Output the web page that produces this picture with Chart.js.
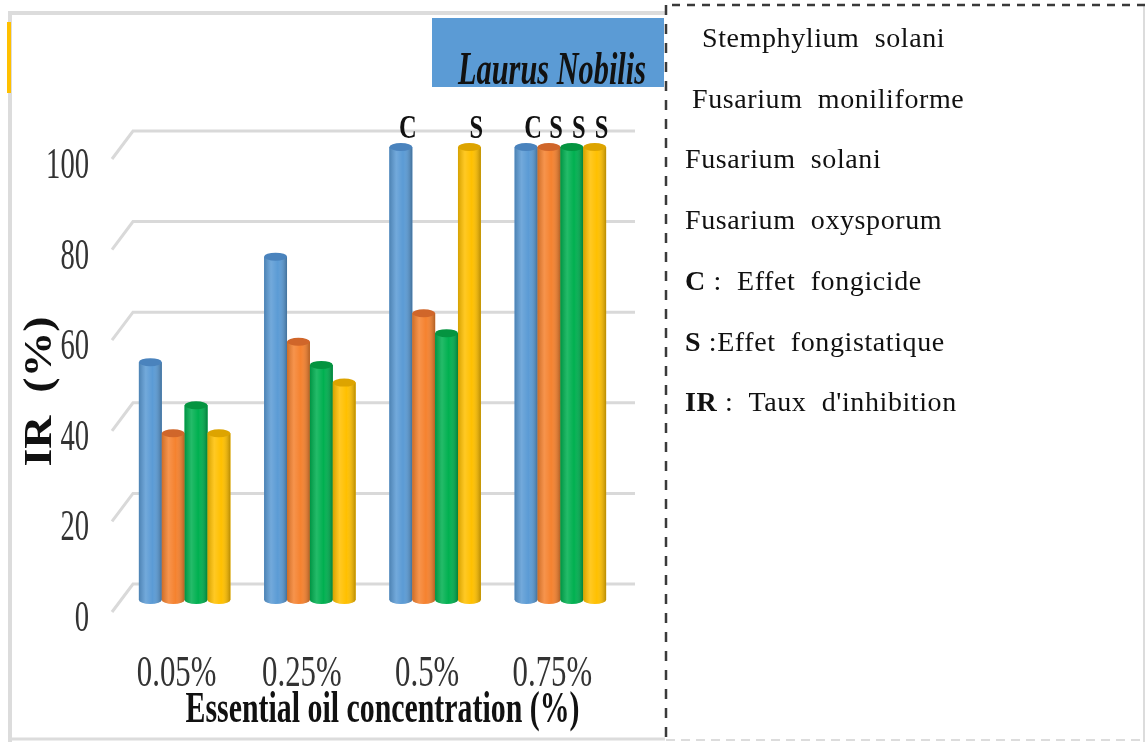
<!DOCTYPE html>
<html>
<head>
<meta charset="utf-8">
<script src="https://cdn.jsdelivr.net/npm/chart.js@4.4.1/dist/chart.umd.min.js"></script>
<style>
  html, body { margin: 0; padding: 0; background: #fff; }
  #wrap { position: relative; width: 1145px; height: 742px; overflow: hidden; }
</style>
</head>
<body>
<div id="wrap"><canvas id="myChart" width="1145" height="742"></canvas></div>
<script>
// inhibition rate IR (%) per concentration of Laurus nobilis essential oil
const concentrations = ['0.05%', '0.25%', '0.5%', '0.75%'];
const stemphyliumSolani = [52.5, 75.8, 100, 100];
const fusariumMoniliforme = [36.8, 57, 63.3, 100];
const fusariumSolani = [43, 51.9, 58.9, 100];
const fusariumOxysporum = [36.8, 48, 100, 100];

// C = fungicidal, S = fungistatic, marked above the bar
const effectStemphylium = ['', '', 'C', 'C'];
const effectMoniliforme = ['', '', '', 'S'];
const effectSolani = ['', '', '', 'S'];
const effectOxysporum = ['', '', 'S', 'S'];

const seriesNames = ['Stemphylium solani', 'Fusarium moniliforme', 'Fusarium solani', 'Fusarium oxysporum'];
const yTicks = [0, 20, 40, 60, 80, 100];

const seriesValues = [stemphyliumSolani, fusariumMoniliforme, fusariumSolani, fusariumOxysporum];
const seriesEffects = [effectStemphylium, effectMoniliforme, effectSolani, effectOxysporum];
const seriesColors = ['#5B9BD5', '#F5822F', '#00B050', '#FFC000'];
const capColors = ['#4A83BD', '#D0662A', '#049440', '#DDA400'];

const SERIF = '"Liberation Serif", "Times New Roman", serif';

function drawSqueezed(ctx, text, x, y, font, sx, align) {
    ctx.save();
    ctx.font = font;
    ctx.translate(x, y);
    ctx.scale(sx, 1);
    ctx.textAlign = align || 'center';
    ctx.textBaseline = 'alphabetic';
    ctx.fillText(text, 0, 0);
    ctx.restore();
}

function squeezeFor(ctx, text, font, width) {
    ctx.save();
    ctx.font = font;
    const w = ctx.measureText(text).width;
    ctx.restore();
    return width / w;
}

// chart frame, title box
const framePlugin = {
    id: 'frame',
    beforeDraw(chart) {
        const ctx = chart.ctx;
        ctx.save();
        ctx.fillStyle = '#fff';
        ctx.fillRect(0, 0, chart.width, chart.height);
        ctx.strokeStyle = '#dcdcdc';
        ctx.lineWidth = 4;
        ctx.beginPath();
        ctx.moveTo(10, 742);
        ctx.lineTo(10, 13);
        ctx.lineTo(665, 13);
        ctx.stroke();
        ctx.lineWidth = 3;
        ctx.beginPath();
        ctx.moveTo(8, 739);
        ctx.lineTo(665, 739);
        ctx.stroke();
        ctx.fillStyle = '#FFC000';
        ctx.fillRect(7, 22, 4, 71);

        ctx.fillStyle = '#5B9BD5';
        ctx.fillRect(432, 18, 232, 69);
        ctx.fillStyle = '#111';
        const tFont = 'italic bold 46px ' + SERIF;
        drawSqueezed(ctx, 'Laurus Nobilis', 646, 84, tFont, squeezeFor(ctx, 'Laurus Nobilis', tFont, 188), 'right');
        ctx.restore();
    }
};

// back wall gridlines and axis text
const wallPlugin = {
    id: 'wall',
    beforeDatasetsDraw(chart) {
        const ctx = chart.ctx;
        const area = chart.chartArea;
        const ys = chart.scales.y;
        const xs = chart.scales.x;
        ctx.save();
        ctx.strokeStyle = '#d9d9d9';
        ctx.lineWidth = 3;
        yTicks.forEach(v => {
            const py = ys.getPixelForValue(v);
            ctx.beginPath();
            ctx.moveTo(area.left - 10, py + 12);
            ctx.lineTo(area.left + 11, py - 16);
            ctx.lineTo(area.right + 12, py - 16);
            ctx.stroke();
        });

        ctx.fillStyle = '#333';
        yTicks.forEach(v => {
            const py = ys.getPixelForValue(v);
            drawSqueezed(ctx, String(v), area.left - 33, py + 31, '44px ' + SERIF, 0.65, 'right');
        });
        concentrations.forEach((c, i) => {
            const px = xs.getPixelForValue(i);
            drawSqueezed(ctx, c, px - 8, area.bottom + 86, '44px ' + SERIF, 0.7, 'center');
        });

        ctx.fillStyle = '#111';
        const xt = 'Essential oil concentration (%)';
        const xFont = 'bold 44px ' + SERIF;
        drawSqueezed(ctx, xt, (area.left + area.right) / 2 + 10, area.bottom + 122, xFont, squeezeFor(ctx, xt, xFont, 394), 'center');

        const yt = 'IR  (%)';
        const yFont = 'bold 40px ' + SERIF;
        ctx.save();
        ctx.translate(51, (area.top + area.bottom) / 2 + 18);
        ctx.rotate(-Math.PI / 2);
        drawSqueezed(ctx, yt, 0, 0, yFont, squeezeFor(ctx, yt, yFont, 150), 'center');
        ctx.restore();
        ctx.restore();
    }
};

// turn flat bars into shaded cylinders, put the C / S marks on top
const cylinderPlugin = {
    id: 'cylinders',
    afterDatasetsDraw(chart) {
        const ctx = chart.ctx;
        ctx.save();
        chart.data.datasets.forEach((ds, di) => {
            const meta = chart.getDatasetMeta(di);
            meta.data.forEach((bar, i) => {
                const { x, y, width, base } = bar.getProps(['x', 'y', 'width', 'base'], true);
                const left = x - width / 2;
                const rx = width / 2;
                const ry = 4;
                const body = new Path2D();
                body.moveTo(left, y);
                body.lineTo(left, base);
                body.ellipse(x, base, rx, ry, 0, Math.PI, 0, true);
                body.lineTo(left + width, y);
                body.closePath();
                ctx.fillStyle = seriesColors[di];
                ctx.fill(body);
                const g = ctx.createLinearGradient(left, 0, left + width, 0);
                g.addColorStop(0, 'rgba(0,0,0,0.16)');
                g.addColorStop(0.3, 'rgba(255,255,255,0.14)');
                g.addColorStop(0.6, 'rgba(255,255,255,0)');
                g.addColorStop(1, 'rgba(0,0,0,0.28)');
                ctx.fillStyle = g;
                ctx.fill(body);
                ctx.fillStyle = capColors[di];
                ctx.beginPath();
                ctx.ellipse(x, y, rx, ry, 0, 0, Math.PI * 2);
                ctx.fill();

                const mark = seriesEffects[di][i];
                if (mark) {
                    ctx.fillStyle = '#111';
                    drawSqueezed(ctx, mark, x + 7, y - 9, 'bold 34px ' + SERIF, 0.72, 'center');
                }
            });
        });
        ctx.restore();
    }
};

// dashed key box on the right
const keyPlugin = {
    id: 'key',
    afterDraw(chart) {
        const ctx = chart.ctx;
        ctx.save();
        ctx.strokeStyle = '#dcdcdc';
        ctx.lineWidth = 2;
        ctx.beginPath();
        ctx.moveTo(1144, 5);
        ctx.lineTo(1144, 742);
        ctx.stroke();
        ctx.setLineDash([9, 6]);
        ctx.beginPath();
        ctx.moveTo(666, 740);
        ctx.lineTo(1145, 740);
        ctx.stroke();

        ctx.strokeStyle = '#3a3a3a';
        ctx.lineWidth = 2.5;
        ctx.setLineDash([8, 7]);
        ctx.beginPath();
        ctx.moveTo(1145, 5);
        ctx.lineTo(666, 5);
        ctx.stroke();
        ctx.setLineDash([10, 9]);
        ctx.beginPath();
        ctx.moveTo(666, 5);
        ctx.lineTo(666, 742);
        ctx.stroke();
        ctx.setLineDash([]);

        const regular = '28px ' + SERIF;
        const bold = 'bold 28px ' + SERIF;
        const lines = [
            { x: 702, parts: [[seriesNames[0].replace(' ', '  '), regular]] },
            { x: 692, parts: [[seriesNames[1].replace(' ', '  '), regular]] },
            { x: 685, parts: [[seriesNames[2].replace(' ', '  '), regular]] },
            { x: 685, parts: [[seriesNames[3].replace(' ', '  '), regular]] },
            { x: 685, parts: [['C', bold], [' :  Effet  fongicide', regular]] },
            { x: 685, parts: [['S', bold], [' :Effet  fongistatique', regular]] },
            { x: 685, parts: [['IR', bold], [' :  Taux  d\'inhibition', regular]] }
        ];
        ctx.fillStyle = '#111';
        ctx.textBaseline = 'alphabetic';
        ctx.textAlign = 'left';
        lines.forEach((line, k) => {
            let px = line.x;
            const py = 47 + k * 60.7;
            line.parts.forEach(([t, f]) => {
                ctx.font = f;
                ctx.letterSpacing = '0.6px';
                ctx.fillText(t, px, py);
                px += ctx.measureText(t).width;
            });
        });
        ctx.restore();
    }
};

const config = {
    type: 'bar',
    data: {
        labels: concentrations,
        datasets: seriesNames.map((name, i) => ({
            label: name,
            data: seriesValues[i],
            backgroundColor: seriesColors[i],
            borderWidth: 0,
            categoryPercentage: 0.73,
            barPercentage: 1.0
        }))
    },
    options: {
        responsive: false,
        devicePixelRatio: 1,
        animation: false,
        layout: {
            padding: { left: 122, right: 522, top: 147, bottom: 142 }
        },
        plugins: {
            legend: { display: false },
            tooltip: { enabled: false },
            title: { display: false }
        },
        scales: {
            x: { display: false },
            y: { display: false, min: 0, max: 100 }
        }
    },
    plugins: [framePlugin, wallPlugin, cylinderPlugin, keyPlugin]
};

const ctx = document.getElementById('myChart');
const myChart = new Chart(ctx, config);
</script>
</body>
</html>
